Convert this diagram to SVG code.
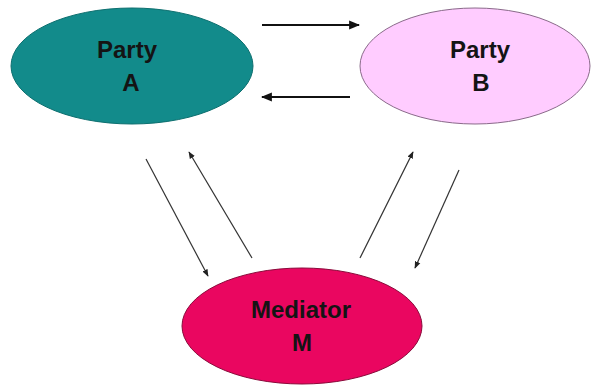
<svg xmlns="http://www.w3.org/2000/svg" width="595" height="386" viewBox="0 0 595 386">
  <style>
    .lbl { font-family: "Liberation Sans", Arial, sans-serif; font-weight: bold; font-size: 24px; fill: #141414; text-anchor: middle; }
    .thick { stroke: #111; stroke-width: 2.2; fill: none; }
    .thin { stroke: #333; stroke-width: 1.2; fill: none; }
  </style>
  <defs>
    <marker id="head" viewBox="0 0 10 10" refX="9" refY="5" markerWidth="5" markerHeight="5" orient="auto" markerUnits="strokeWidth">
      <path d="M0,1 L10,5 L0,9 z" fill="#111"/>
    </marker>
    <marker id="headThin" viewBox="0 0 10 10" refX="9" refY="5" markerWidth="6" markerHeight="6" orient="auto" markerUnits="strokeWidth">
      <path d="M0,1 L10,5 L0,9 z" fill="#222"/>
    </marker>
  </defs>
  <rect width="595" height="386" fill="#fff"/>

  <g id="party-a">
    <ellipse cx="132" cy="66" rx="121" ry="58" fill="#128b8b" stroke="#0d6f6f" stroke-width="1"/>
    <text class="lbl" x="127" y="58">Party</text>
    <text class="lbl" x="131" y="91">A</text>
  </g>

  <g id="party-b">
    <ellipse cx="475" cy="66" rx="115" ry="58" fill="#ffccff" stroke="#8a6a8a" stroke-width="1"/>
    <text class="lbl" x="480" y="58">Party</text>
    <text class="lbl" x="481" y="91">B</text>
  </g>

  <g id="mediator">
    <ellipse cx="302" cy="326" rx="120" ry="58" fill="#ea0660" stroke="#8a0a3a" stroke-width="1"/>
    <text class="lbl" x="301" y="318">Mediator</text>
    <text class="lbl" x="302" y="351">M</text>
  </g>

  <g id="connectors">
    <line class="thick" x1="262" y1="25" x2="359" y2="25" marker-end="url(#head)"/>
    <line class="thick" x1="350" y1="97" x2="262" y2="97" marker-end="url(#head)"/>
    <line class="thin" x1="146" y1="159" x2="208" y2="276" marker-end="url(#headThin)"/>
    <line class="thin" x1="252" y1="258" x2="189" y2="152" marker-end="url(#headThin)"/>
    <line class="thin" x1="360" y1="258" x2="413" y2="152" marker-end="url(#headThin)"/>
    <line class="thin" x1="459" y1="170" x2="415" y2="268" marker-end="url(#headThin)"/>
  </g>
</svg>
